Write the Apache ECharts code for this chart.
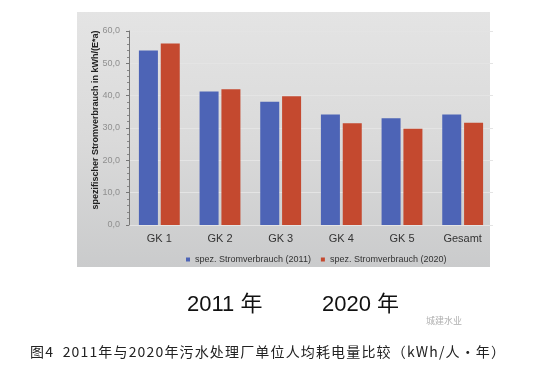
<!DOCTYPE html>
<html><head><meta charset="utf-8">
<script src="https://cdn.jsdelivr.net/npm/echarts@6/dist/echarts.min.js"></script>
<style>html,body{margin:0;padding:0;background:#fff}#c{width:548px;height:373px}</style>
</head><body><div id="c"></div>
<script>
var categories = ['GK 1', 'GK 2', 'GK 3', 'GK 4', 'GK 5', 'Gesamt'];
var values2011 = [54.0, 41.3, 38.1, 34.2, 33.0, 34.2];
var values2020 = [56.1, 42.0, 39.8, 31.5, 29.8, 31.6];
var seriesNames = ['spez. Stromverbrauch (2011)', 'spez. Stromverbrauch (2020)'];
var yAxisName = 'spezifischer Stromverbrauch in kWh/(E*a)';
var yearLabels = ['2011 年', '2020 年'];
var caption = '图4  2011年与2020年污水处理厂单位人均耗电量比较（kWh/人·年）';

var capFont = '14px "Noto Sans CJK SC", sans-serif';
var capStart = 30, capEnd = 505;
var ctx = document.createElement('canvas').getContext('2d');
ctx.font = capFont;
var chars = Array.from(caption);
var widths = chars.map(function (ch) { return ctx.measureText(ch).width; });
var natural = widths.reduce(function (a, b) { return a + b; }, 0);
var spacing = (capEnd - capStart - natural) / (chars.length - 1);
var captionGraphics = [];
var cx = capStart;
chars.forEach(function (ch, i) {
  captionGraphics.push({type: 'text', x: cx, y: 345, style: {text: ch, font: capFont, fill: '#222'}});
  cx += widths[i] + spacing;
});

var chart = echarts.init(document.getElementById('c'), null, {renderer: 'canvas'});
chart.setOption({
  backgroundColor: '#ffffff',
  animation: false,
  graphic: [
    {type: 'rect', z: -10, shape: {x: 77, y: 12, width: 413, height: 255},
     style: {fill: new echarts.graphic.LinearGradient(0, 0, 0, 1, [
       {offset: 0, color: '#e4e4e4'}, {offset: 0.5, color: '#dadada'}, {offset: 1, color: '#cacbcc'}])}},
    {type: 'text', x: 96, y: 120, rotation: Math.PI / 2,
     style: {text: yAxisName, font: 'bold 9px "Liberation Sans", sans-serif', fill: '#222',
       align: 'center', verticalAlign: 'middle'}},
    {type: 'text', left: 187, top: 294, style: {text: yearLabels[0], font: '22px "Liberation Sans", "Noto Sans CJK SC", sans-serif', fill: '#111'}},
    {type: 'text', left: 322, top: 294, style: {text: yearLabels[1], font: '22px "Liberation Sans", "Noto Sans CJK SC", sans-serif', fill: '#111'}},
    {type: 'text', left: 426, top: 316, style: {text: '城建水业', font: '9px "Noto Sans CJK SC", sans-serif', fill: '#b0b0b0'}}
  ].concat(captionGraphics),
  grid: {left: 129, top: 31, width: 364, bottom: 148, containLabel: false},
  legend: {
    top: 250, left: 181, itemWidth: 4, itemHeight: 4, itemGap: 10, icon: 'rect',
    textStyle: {fontSize: 9, color: '#333', fontFamily: 'Liberation Sans'},
    data: seriesNames
  },
  xAxis: {
    type: 'category', data: categories,
    axisLine: {show: false}, axisTick: {show: false},
    axisLabel: {fontSize: 11, color: '#333', margin: 8, fontFamily: 'Liberation Sans'}
  },
  yAxis: {
    type: 'value', min: 0, max: 60, interval: 10,
    axisLine: {show: true, lineStyle: {color: '#777', width: 1}},
    axisTick: {show: true, length: 3, lineStyle: {color: '#777'}},
    minorTick: {show: true, splitNumber: 5, length: 2, lineStyle: {color: '#888'}},
    axisLabel: {fontSize: 9, color: '#8f8f8f', margin: 9, fontFamily: 'Liberation Sans',
      formatter: function (v) { return v.toFixed(1).replace('.', ','); }},
    splitLine: {show: true, lineStyle: {color: '#e4e4e4', width: 1}}
  },
  series: [
    {name: seriesNames[0], type: 'bar', data: values2011, barWidth: 19, barGap: '15%',
     itemStyle: {color: '#4d64b6'}},
    {name: seriesNames[1], type: 'bar', data: values2020, barWidth: 19,
     itemStyle: {color: '#c4492f'}}
  ]
});
</script></body></html>
